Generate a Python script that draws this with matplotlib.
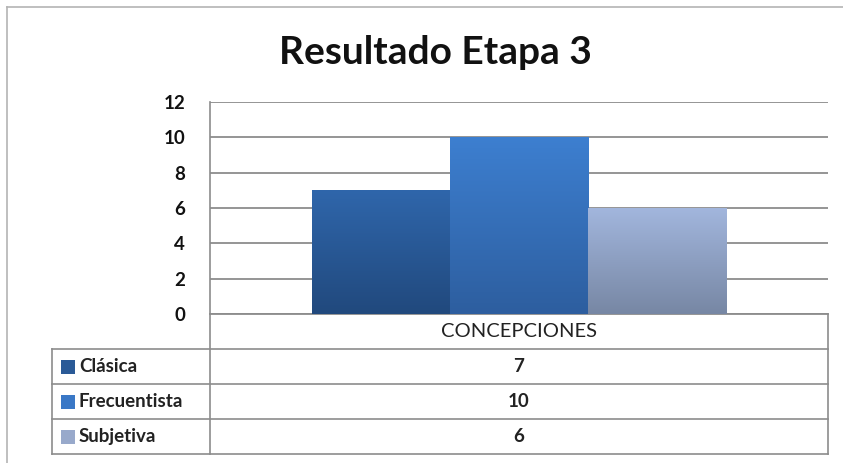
import numpy as np
import matplotlib
matplotlib.use("Agg")
import matplotlib.pyplot as plt
from matplotlib.colors import LinearSegmentedColormap
from matplotlib.patches import Rectangle
from matplotlib.lines import Line2D

# ---- DATA ----
title = "Resultado Etapa 3"
category = "CONCEPCIONES"
series = ["Clásica", "Frecuentista", "Subjetiva"]
values = [7, 10, 6]
yticks = [0, 2, 4, 6, 8, 10, 12]

# gradient (top, bottom) per series
grad = [("#2F66AB", "#21497D"), ("#3D7FD0", "#2D5E9F"), ("#A2B6DD", "#7787A4")]
swatch = ["#2A5A97", "#3A78C6", "#98A9CB"]

plt.rcParams["font.family"] = ["Lato", "DejaVu Sans"]
GRID = "#8C8C8C"
W, H = 843, 463

fig = plt.figure(figsize=(W / 100, H / 100), dpi=100)
fig.patch.set_facecolor("white")

# outer chart frame (top and left edges visible)
fig.add_artist(Line2D([7 / W, 7 / W], [0, 1 - 7 / H], transform=fig.transFigure,
                      color="#B4B4B4", lw=1.2))
fig.add_artist(Line2D([7 / W, 1], [1 - 7 / H, 1 - 7 / H], transform=fig.transFigure,
                      color="#B4B4B4", lw=1.2))

fig.text(435 / W, 1 - 52 / H, title, ha="center", va="center",
         fontsize=28, fontweight="bold", color="#111111")

# ---- BAR AREA ----
ax = fig.add_axes([210 / W, 1 - 314 / H, 618 / W, 212 / H])
n = len(series)
group_w = 0.67
bw = group_w / n
xs = [-group_w / 2 + bw * (i + 0.5) for i in range(n)]
bars = ax.bar(xs, values, width=bw, color="none", edgecolor="none", zorder=3)
for b, (top, bot) in zip(bars, grad):
    cmap = LinearSegmentedColormap.from_list("g", [bot, top])
    g = np.linspace(0, 1, 256).reshape(-1, 1)
    im = ax.imshow(g, cmap=cmap, origin="lower", aspect="auto", zorder=3,
                   extent=(b.get_x(), b.get_x() + b.get_width(), 0, b.get_height()))
    im.set_clip_path(b)

ax.set_xlim(-0.5, 0.5)
ax.set_ylim(0, 12)
ax.set_yticks(yticks)
ax.set_xticks([])
ax.yaxis.grid(True, color=GRID, lw=1.3, zorder=1)
for s in ["top", "right"]:
    ax.spines[s].set_visible(False)
ax.spines["left"].set_color(GRID)
ax.spines["bottom"].set_color(GRID)
ax.spines["left"].set_linewidth(1.2)
ax.spines["bottom"].set_linewidth(1.3)
ax.tick_params(axis="y", length=0, pad=18, labelsize=13.5, labelcolor="#111111")
for t in ax.get_yticklabels():
    t.set_fontweight("bold")

# ---- DATA TABLE ----
tx = fig.add_axes([52 / W, 1 - 454 / H, 776 / W, 140 / H])
tx.set_xlim(0, 1)
tx.set_ylim(0, 4)
tx.axis("off")
split = 158 / 776
lc = dict(color=GRID, lw=1.2, clip_on=False)
for yy in [0, 1, 2, 3]:
    tx.plot([0, 1], [yy, yy], **lc)
tx.plot([0, 0], [0, 3], **lc)
tx.plot([split, split], [0, 4], **lc)
tx.plot([1, 1], [0, 4], **lc)

cx = split + (1 - split) / 2
tx.text(cx, 3.5, category, ha="center", va="center", fontsize=14.5, color="#222222")
for i, (name, val) in enumerate(zip(series, values)):
    yc = 2.5 - i
    tx.add_patch(Rectangle((9 / 776, yc - 0.2), 14 / 776, 0.4, facecolor=swatch[i],
                           edgecolor="none", clip_on=False))
    tx.text(27 / 776, yc, name, ha="left", va="center", fontsize=13.5,
            fontweight="bold", color="#222222")
    tx.text(cx, yc, str(val), ha="center", va="center", fontsize=13.5,
            fontweight="bold", color="#222222")

plt.savefig("out.png", dpi=100, facecolor="white")
plt.close()
